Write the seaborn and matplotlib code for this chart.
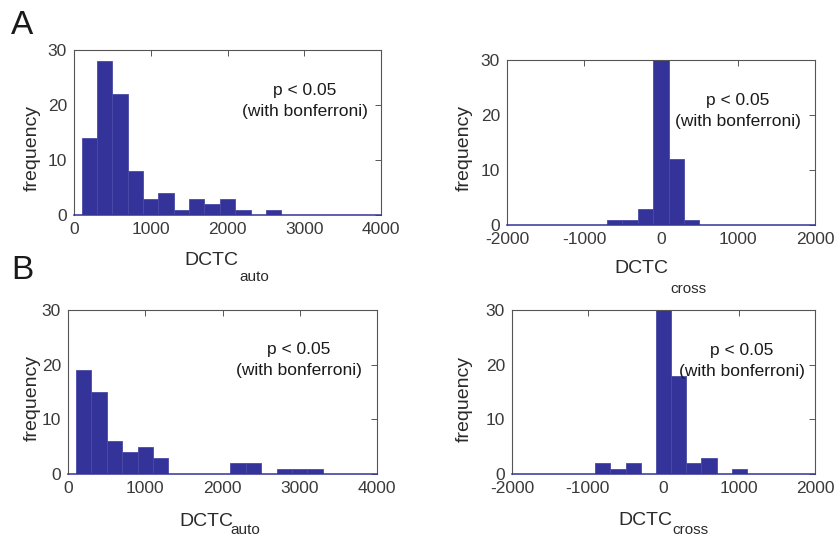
import numpy as np
import pandas as pd
import matplotlib.pyplot as plt
import seaborn as sns

# histogram counts, bin width 200 (values are bin centres)
auto_centers = np.arange(200, 4001, 200)
cross_centers = np.arange(-2000, 2001, 200)

auto_a = [14, 28, 22, 8, 3, 4, 1, 3, 2, 3, 1, 0, 1, 0, 0, 0, 0, 0, 0, 0]
cross_a = [0, 0, 0, 0, 0, 0, 0, 1, 1, 3, 72, 12, 1, 0, 0, 0, 0, 0, 0, 0, 0]
auto_b = [19, 15, 6, 4, 5, 3, 0, 0, 0, 0, 2, 2, 0, 1, 1, 1, 0, 0, 0, 0]
cross_b = [0, 0, 0, 0, 0, 0, 2, 1, 2, 0, 30, 18, 2, 3, 0, 1, 0, 0, 0, 0, 0]

sns.set_style('white')
plt.rcParams['font.family'] = ['Liberation Sans', 'DejaVu Sans']

W, H = 840, 536
BAR = '#333399'
fig = plt.figure(figsize=(W / 100, H / 100), dpi=100)


def box(l, t, r, b):
    return [l / W, 1 - b / H, (r - l) / W, (b - t) / H]


def px(x, y):
    return x / W, 1 - y / H


panels = [
    (box(74, 50, 381, 215), auto_centers, auto_a, (0, 4000), [0, 1000, 2000, 3000, 4000]),
    (box(507, 60, 815, 225), cross_centers, cross_a, (-2000, 2000), [-2000, -1000, 0, 1000, 2000]),
    (box(68, 310, 377, 474), auto_centers, auto_b, (0, 4000), [0, 1000, 2000, 3000, 4000]),
    (box(512, 310, 815, 474), cross_centers, cross_b, (-2000, 2000), [-2000, -1000, 0, 1000, 2000]),
]

for rect, centers, counts, xlim, xticks in panels:
    ax = fig.add_axes(rect)
    df = pd.DataFrame({'value': centers, 'count': counts})
    sns.barplot(data=df, x='value', y='count', native_scale=True, width=1,
                color=BAR, saturation=1, edgecolor='#4a4aa6', linewidth=0.6, ax=ax)
    ax.set_xlim(*xlim)
    ax.set_ylim(0, 30)
    ax.set_xticks(xticks)
    ax.set_xticklabels([str(t) for t in xticks])
    ax.set_yticks([0, 10, 20, 30])
    ax.set_xlabel('')
    ax.set_ylabel('')
    ax.tick_params(direction='in', length=4, width=0.6, top=True, right=True,
                   labelsize=12.5, colors='#3a3a3a', pad=5)
    for s in ax.spines.values():
        s.set_color('#555555')
        s.set_linewidth(0.8)
    # empty bins show as a blue baseline in the original
    ax.spines['bottom'].set_color(BAR)
    ax.spines['bottom'].set_linewidth(1.1)

# panel letters
fig.text(*px(11, 34), 'A', fontsize=24, color='#1a1a1a')
fig.text(*px(11, 279), 'B', fontsize=24, color='#1a1a1a')

# y labels
for x, y in [(32, 148), (464, 148), (32, 398), (464, 399)]:
    fig.text(*px(x, y), 'frequency', rotation=90, fontsize=14, color='#2a2a2a',
             ha='center', va='center')

# x labels with detached subscripts
fig.text(*px(184, 265), 'DCTC', fontsize=14, color='#2a2a2a', va='baseline')
fig.text(*px(239, 281), 'auto', fontsize=11, color='#2a2a2a', va='baseline')
fig.text(*px(614, 273), 'DCTC', fontsize=14, color='#2a2a2a', va='baseline')
fig.text(*px(670, 293), 'cross', fontsize=11, color='#2a2a2a', va='baseline')
fig.text(*px(179, 526), 'DCTC', fontsize=14, color='#2a2a2a', va='baseline')
fig.text(*px(230, 534), 'auto', fontsize=11, color='#2a2a2a', va='baseline')
fig.text(*px(618, 525), 'DCTC', fontsize=14, color='#2a2a2a', va='baseline')
fig.text(*px(672, 534), 'cross', fontsize=11, color='#2a2a2a', va='baseline')

# significance notes
for x, y in [(305, 101), (738, 111), (299, 360), (742, 361)]:
    fig.text(*px(x, y), 'p < 0.05\n(with bonferroni)', fontsize=12.5, color='#1a1a1a',
             ha='center', va='center', linespacing=1.45)

fig.savefig('out.png', dpi=100)
